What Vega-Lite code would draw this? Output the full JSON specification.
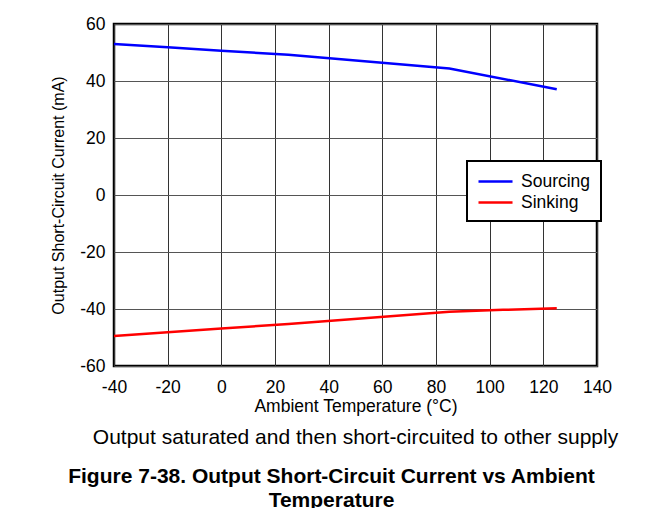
{
  "$schema": "https://vega.github.io/schema/vega-lite/v6.json",
  "width": 483,
  "height": 342,
  "autosize": {"type": "none"},
  "padding": {"left": 114, "top": 24, "right": 64, "bottom": 142},
  "background": "white",
  "config": {
    "font": "Liberation Sans",
    "view": {"stroke": "black", "strokeWidth": 2.5}
  },
  "title": {
    "text": "Output saturated and then short-circuited to other supply",
    "subtitle": ["Figure 7-38. Output Short-Circuit Current vs Ambient", "Temperature"],
    "orient": "bottom",
    "anchor": "middle",
    "frame": "group",
    "offset": 12,
    "fontSize": 21,
    "fontWeight": "normal",
    "color": "black",
    "subtitleFontSize": 21,
    "subtitleFontWeight": "bold",
    "subtitleColor": "black",
    "subtitlePadding": 18,
    "subtitleLineHeight": 24,
    "encode": {"subtitle": {"update": {"dx": {"value": -24}}}}
  },
  "data": {
    "values": [
      {"temp": -40, "current": 53.0, "series": "Sourcing"},
      {"temp": -20, "current": 51.8, "series": "Sourcing"},
      {"temp": 0, "current": 50.6, "series": "Sourcing"},
      {"temp": 25, "current": 49.2, "series": "Sourcing"},
      {"temp": 85, "current": 44.4, "series": "Sourcing"},
      {"temp": 125, "current": 37.1, "series": "Sourcing"},
      {"temp": -40, "current": -49.5, "series": "Sinking"},
      {"temp": 0, "current": -46.8, "series": "Sinking"},
      {"temp": 25, "current": -45.3, "series": "Sinking"},
      {"temp": 85, "current": -41.0, "series": "Sinking"},
      {"temp": 105, "current": -40.3, "series": "Sinking"},
      {"temp": 125, "current": -39.7, "series": "Sinking"}
    ]
  },
  "mark": {"type": "line", "strokeWidth": 2.5},
  "encoding": {
    "x": {
      "field": "temp",
      "type": "quantitative",
      "scale": {"domain": [-40, 140], "nice": false},
      "axis": {
        "title": "Ambient Temperature (°C)",
        "values": [-40, -20, 0, 20, 40, 60, 80, 100, 120, 140],
        "labelExpr": "'' + datum.value",
        "labelFlush": false,
        "labelOverlap": false,
        "ticks": false,
        "domain": false,
        "labelPadding": 12,
        "labelFontSize": 17.5,
        "labelColor": "black",
        "titleFontSize": 17.5,
        "titleFontWeight": "normal",
        "titleColor": "black",
        "titlePadding": 2,
        "gridColor": "#333333",
        "gridWidth": 1,
        "gridOpacity": 1
      }
    },
    "y": {
      "field": "current",
      "type": "quantitative",
      "scale": {"domain": [-60, 60], "nice": false},
      "axis": {
        "title": "Output Short-Circuit Current (mA)",
        "values": [-60, -40, -20, 0, 20, 40, 60],
        "labelExpr": "'' + datum.value",
        "labelFlush": false,
        "labelOverlap": false,
        "ticks": false,
        "domain": false,
        "labelPadding": 9,
        "labelFontSize": 17.5,
        "labelColor": "black",
        "titleFontSize": 16,
        "titleFontWeight": "normal",
        "titleColor": "black",
        "titlePadding": 13,
        "gridColor": "#555555",
        "gridWidth": 1,
        "gridOpacity": 1
      }
    },
    "color": {
      "field": "series",
      "type": "nominal",
      "scale": {"domain": ["Sourcing", "Sinking"], "range": ["#0000ff", "#ff0000"]},
      "legend": {
        "title": null,
        "orient": "none",
        "legendX": 353,
        "legendY": 137,
        "fillColor": "white",
        "strokeColor": "black",
        "padding": 10,
        "symbolType": "M-1,0H2.78",
        "symbolSize": 324,
        "symbolStrokeWidth": 2.5,
        "labelFontSize": 17.5,
        "labelColor": "black",
        "labelOffset": 23,
        "rowPadding": 2,
        "encode": {"legend": {"update": {"strokeWidth": {"value": 2}}}}
      }
    }
  }
}
